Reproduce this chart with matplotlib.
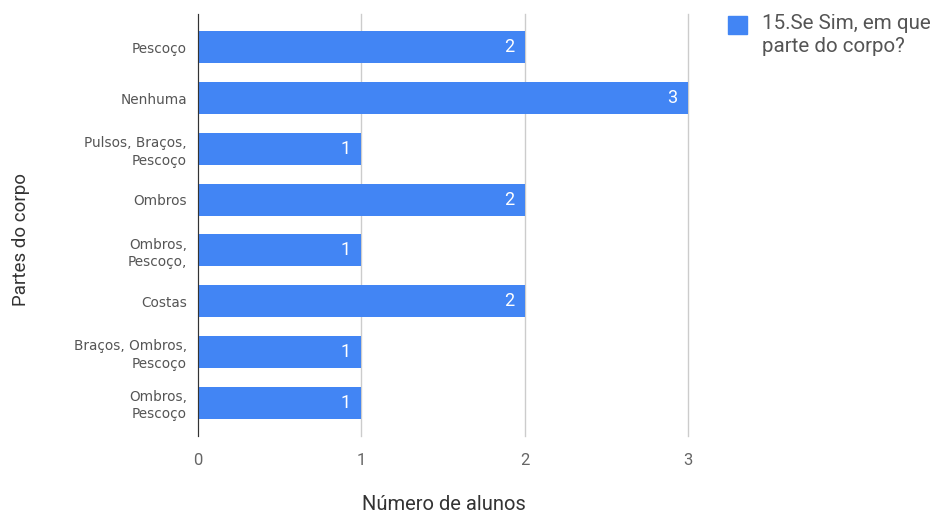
import matplotlib.pyplot as plt
from matplotlib.patches import Rectangle
import numpy as np

# dados (de cima para baixo)
categorias = ['Pescoço', 'Nenhuma', 'Pulsos, Braços,\nPescoço', 'Ombros',
              'Ombros,\nPescoço,', 'Costas', 'Braços, Ombros,\nPescoço',
              'Ombros,\nPescoço']
valores = [2, 3, 1, 2, 1, 2, 1, 1]
serie = '15.Se Sim, em que\nparte do corpo?'

plt.rcParams['font.family'] = ['Roboto', 'DejaVu Sans']

fig = plt.figure(figsize=(9.37, 5.15), dpi=100)
ax = fig.add_axes([198/937, 1 - 436/515, 490/937, 422/515])

y = np.arange(len(categorias))
bars = ax.barh(y, valores, height=0.63, color='#4285F4', zorder=3)

for yi, v in zip(y, valores):
    ax.text(v - 0.065, yi, str(v), color='white', fontsize=13,
            ha='right', va='center', zorder=4)

ax.set_xlim(0, 3)
ax.set_ylim(len(categorias) - 0.5 + 0.16, -0.5 - 0.16)
ax.set_xticks([0, 1, 2, 3])
ax.set_yticks(y)
ax.set_yticklabels(categorias, fontsize=9.8, color='#555555', linespacing=1.3,
                   family='DejaVu Sans')
ax.tick_params(axis='x', labelsize=12, labelcolor='#666666', length=0, pad=12)
ax.tick_params(axis='y', length=0, pad=8)

#GRADE
ax.grid(axis='x', color='#cccccc', linewidth=1, zorder=0)
for gl in ax.get_xgridlines():
    gl.set_clip_on(False)
for s in ['top', 'right', 'bottom']:
    ax.spines[s].set_visible(False)
ax.spines['left'].set_color('#333333')
ax.spines['left'].set_zorder(5)

fig.text(444/937, 1 - 505/515, 'Número de alunos', ha='center', va='center',
         fontsize=14.5, color='#333333')
fig.text(21/937, 1 - 240/515, 'Partes do corpo', ha='center', va='center',
         rotation=90, fontsize=13.5, color='#333333')

# LEGENDA
fig.patches.append(Rectangle((728/937, 1 - 34/515), 19/937, 18/515,
                             transform=fig.transFigure, color='#4285F4'))
fig.text(762/937, 1 - 14/515, serie, ha='left', va='top', fontsize=14.8,
         color='#555555', linespacing=1.25)

fig.savefig('out.png', dpi=100)
